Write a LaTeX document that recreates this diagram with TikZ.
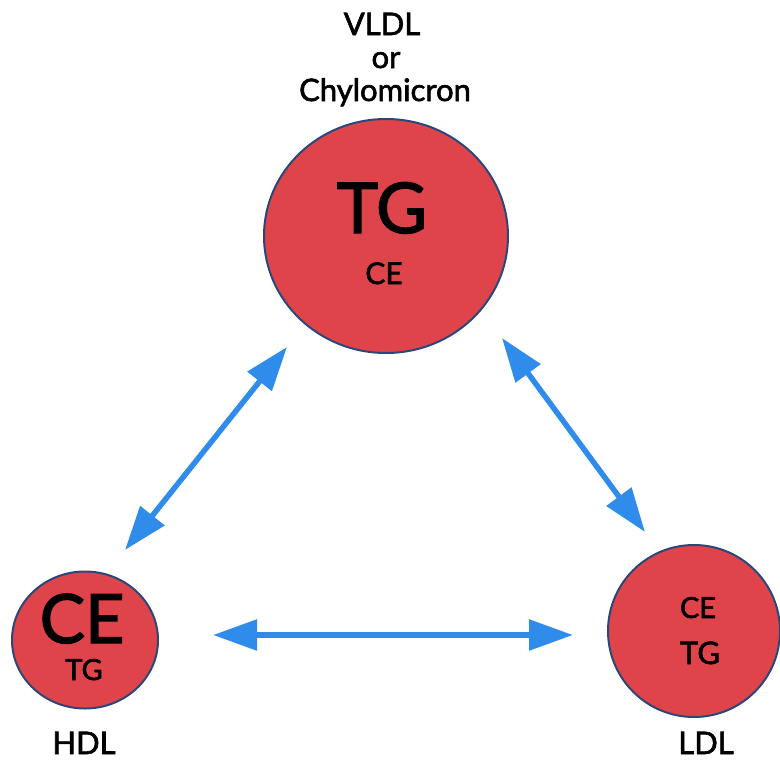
\documentclass[tikz,border=0pt]{standalone}
\usepackage{fontspec}
\setmainfont{Lato}[FakeBold=2]
\usetikzlibrary{shapes.geometric,arrows.meta}
\definecolor{lipred}{HTML}{E0444B}
\definecolor{lipblue}{HTML}{2B4678}
\definecolor{arrblue}{HTML}{2F8CEB}
\tikzset{
  particle/.style={ellipse, draw=lipblue, line width=2pt, fill=lipred, inner sep=0pt},
  lbl/.style={font=\fontsize{31}{33}\selectfont, text=black, inner sep=0pt, anchor=base, text depth=0pt},
  dbl/.style={draw=arrblue, line width=5.5pt, {Triangle[length=44pt,width=30pt]}-{Triangle[length=44pt,width=30pt]}}
}
\begin{document}
\begin{tikzpicture}[x=1pt,y=-1pt]
\useasboundingbox (0,0) rectangle (780,761);
% particles
\node[particle, minimum width=244pt, minimum height=234pt] (vldl) at (386,236) {};
\node[particle, minimum width=146pt, minimum height=137pt] (hdl) at (85,640) {};
\node[particle, minimum width=172pt, minimum height=172pt] (ldl) at (694,631) {};
% inner texts
\node[inner sep=0pt, font=\fontsize{70}{72}\selectfont, anchor=base] (vtg) at (382,233) {TG};
\node[inner sep=0pt, font=\fontsize{30}{30}\selectfont, anchor=base] (vce) at (384,284) {CE};
\node[inner sep=0pt, font=\fontsize{68}{70}\selectfont, anchor=base] (hce) at (82,643) {CE};
\node[inner sep=0pt, font=\fontsize{29}{30}\selectfont, anchor=base] (htg) at (84,680) {TG};
\node[inner sep=0pt, font=\fontsize{29}{30}\selectfont, anchor=base] (lce) at (698,618) {CE};
\node[inner sep=0pt, font=\fontsize{31}{30}\selectfont, anchor=base] (ltg) at (700,664) {TG};
% labels
\node[lbl] (vlbl1) at (382,35) {VLDL};
\node[lbl] (vlbl2) at (386,68) {or};
\node[lbl] (vlbl3) at (385,101) {Chylomicron};
\node[lbl] (hlbl) at (84,754) {HDL};
\node[lbl] (llbl) at (706,754) {LDL};
% arrows
\coordinate (a1) at (287,347);
\coordinate (a2) at (125,550);
\coordinate (b1) at (502,338);
\coordinate (b2) at (645,532);
\coordinate (c1) at (213,635);
\coordinate (c2) at (573,635);
\draw[dbl] (a1) -- (a2);
\draw[dbl] (b1) -- (b2);
\draw[dbl] (c1) -- (c2);
\end{tikzpicture}
\end{document}
